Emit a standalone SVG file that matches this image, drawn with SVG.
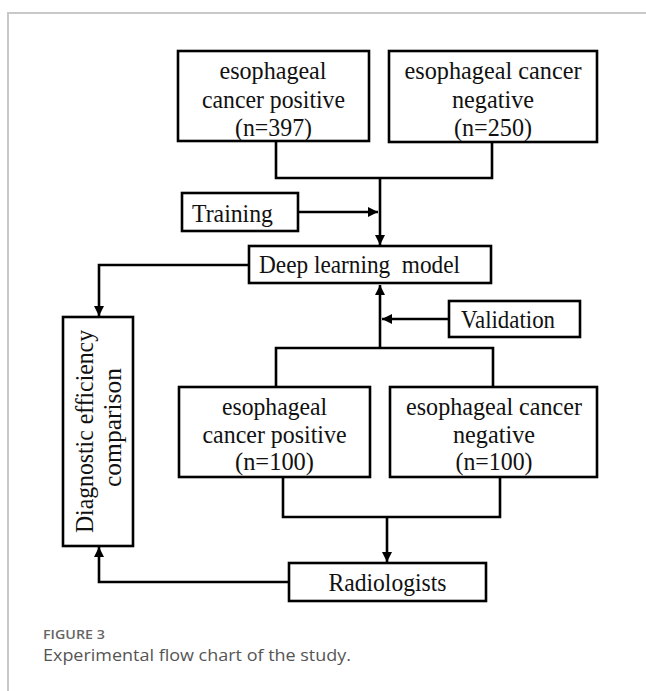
<svg xmlns="http://www.w3.org/2000/svg" width="646" height="691" viewBox="0 0 646 691">
<style>
.box{fill:#fff;stroke:#000;stroke-width:2.6}
.t{font-family:"Liberation Serif","Times New Roman",serif;font-size:26px;fill:#111;text-anchor:middle}
.c{fill:none;stroke:#000;stroke-width:2.6}
.frame{fill:none;stroke:#c8c8c8;stroke-width:2}
.cap1{font-family:"Open Sans","Noto Sans",sans-serif;font-size:13px;fill:#666;font-weight:600}
.cap2{font-family:"Open Sans","Noto Sans",sans-serif;font-size:17px;fill:#555}
</style>
<defs>
<marker id="ah" viewBox="0 0 10 10" refX="10" refY="5" markerWidth="4" markerHeight="4" orient="auto" markerUnits="strokeWidth">
<path d="M0,0 L10,5 L0,10 z" fill="#000"/>
</marker>
</defs>
<rect width="646" height="691" fill="#fff"/>
<path class="frame" d="M8,700 V13 H650"/>

<g id="connectors">
<path class="c" d="M276,142 V178 H492 V142"/>
<path class="c" d="M380,178 V245" marker-end="url(#ah)"/>
<path class="c" d="M298,212 H378" marker-end="url(#ah)"/>
<path class="c" d="M249,265 H99 V316" marker-end="url(#ah)"/>
<path class="c" d="M380,348 V285" marker-end="url(#ah)"/>
<path class="c" d="M449,319 H382" marker-end="url(#ah)"/>
<path class="c" d="M276,387 V348 H493 V387"/>
<path class="c" d="M283,478 V517 H500 V478"/>
<path class="c" d="M387,517 V562" marker-end="url(#ah)"/>
<path class="c" d="M289,582 H99 V547" marker-end="url(#ah)"/>
</g>

<g id="pos-train">
<rect class="box" x="178" y="51" width="191" height="90"/>
<text class="t" x="273" y="79" textLength="107" lengthAdjust="spacingAndGlyphs">esophageal</text>
<text class="t" x="273.5" y="108" textLength="143" lengthAdjust="spacingAndGlyphs">cancer positive</text>
<text class="t" x="273.5" y="136" textLength="77" lengthAdjust="spacingAndGlyphs">(n=397)</text>
</g>
<g id="neg-train">
<rect class="box" x="389" y="51" width="208" height="91"/>
<text class="t" x="493" y="79" textLength="177" lengthAdjust="spacingAndGlyphs">esophageal cancer</text>
<text class="t" x="493" y="108" textLength="82" lengthAdjust="spacingAndGlyphs">negative</text>
<text class="t" x="493" y="136" textLength="78" lengthAdjust="spacingAndGlyphs">(n=250)</text>
</g>
<g id="training">
<rect class="box" x="182" y="193" width="116" height="38"/>
<text class="t" x="232.5" y="222" textLength="81" lengthAdjust="spacingAndGlyphs">Training</text>
</g>
<g id="dl-model">
<rect class="box" x="249" y="246" width="242" height="37"/>
<text class="t" x="359.5" y="273" textLength="201" lengthAdjust="spacingAndGlyphs" xml:space="preserve">Deep learning  model</text>
</g>
<g id="validation">
<rect class="box" x="449" y="301" width="131" height="36"/>
<text class="t" x="508" y="328" textLength="94" lengthAdjust="spacingAndGlyphs">Validation</text>
</g>
<g id="pos-val">
<rect class="box" x="179" y="387" width="191" height="90"/>
<text class="t" x="274.5" y="415" textLength="105" lengthAdjust="spacingAndGlyphs">esophageal</text>
<text class="t" x="274.5" y="443" textLength="144" lengthAdjust="spacingAndGlyphs">cancer positive</text>
<text class="t" x="274.5" y="470" textLength="79" lengthAdjust="spacingAndGlyphs">(n=100)</text>
</g>
<g id="neg-val">
<rect class="box" x="390" y="387" width="207" height="90"/>
<text class="t" x="494" y="415" textLength="176" lengthAdjust="spacingAndGlyphs">esophageal cancer</text>
<text class="t" x="494" y="443" textLength="82" lengthAdjust="spacingAndGlyphs">negative</text>
<text class="t" x="494" y="470" textLength="77" lengthAdjust="spacingAndGlyphs">(n=100)</text>
</g>
<g id="radiologists">
<rect class="box" x="289" y="563" width="197" height="38"/>
<text class="t" x="387.5" y="591" textLength="118" lengthAdjust="spacingAndGlyphs">Radiologists</text>
</g>
<g id="diagnostic">
<rect class="box" x="63" y="317" width="70" height="229"/>
<text class="t" transform="translate(93,431.5) rotate(-90)" x="0" y="0" textLength="203" lengthAdjust="spacingAndGlyphs">Diagnostic efficiency</text>
<text class="t" transform="translate(121,427.5) rotate(-90)" x="0" y="0" textLength="119" lengthAdjust="spacingAndGlyphs">comparison</text>
</g>

<text class="cap1" x="43" y="639" textLength="62" lengthAdjust="spacingAndGlyphs">FIGURE 3</text>
<text class="cap2" x="43" y="661" textLength="308" lengthAdjust="spacingAndGlyphs">Experimental flow chart of the study.</text>
</svg>
